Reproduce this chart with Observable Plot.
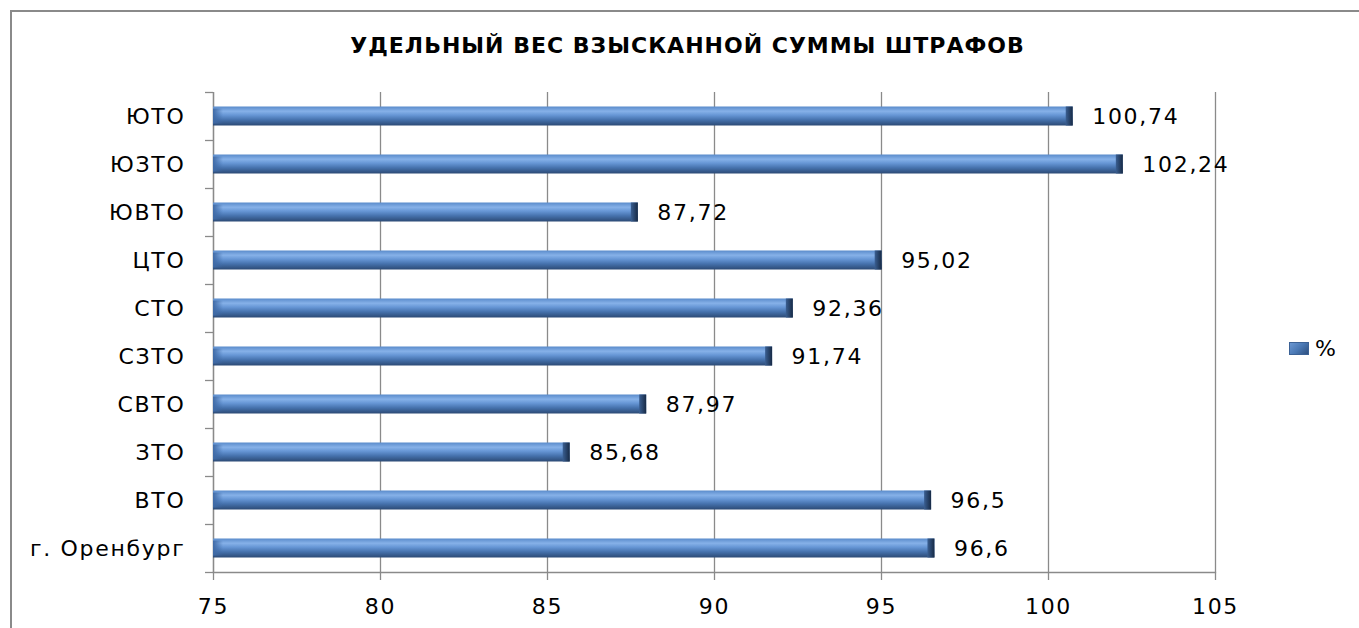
<!DOCTYPE html>
<html><head><meta charset="utf-8">
<script src="https://cdn.jsdelivr.net/npm/d3@7"></script>
<script src="https://cdn.jsdelivr.net/npm/@observablehq/plot@0.6"></script>
<style>
body{margin:0;background:#fff;}
#wrap{position:relative;width:1359px;height:628px;overflow:hidden;font-family:"DejaVu Sans",sans-serif;}
#frame{position:absolute;left:10px;top:10px;width:1400px;height:700px;border-left:2px solid #8a8a8a;border-top:2px solid #8a8a8a;}
#title{position:absolute;top:33px;left:0;width:1375px;text-align:center;font-weight:bold;font-size:22px;letter-spacing:1px;color:#000;}
#legend{position:absolute;left:1289px;top:336px;display:flex;align-items:center;font-size:22px;color:#000;}
#legend .sw{width:20px;height:13px;margin-right:6px;background:linear-gradient(135deg,#6f9bd6 0%,#4a78b4 50%,#2a4a78 100%);box-shadow:inset 0 0 0 1px #3c6296;}
#chart{position:absolute;left:0;top:0;}
#chart svg text{letter-spacing:1.7px;}
</style>
</head><body>
<div id="wrap">
  <div id="frame"></div>
  <div id="chart"></div>
  <div id="title">УДЕЛЬНЫЙ ВЕС ВЗЫСКАННОЙ СУММЫ ШТРАФОВ</div>
  <div id="legend"><div class="sw"></div><span>%</span></div>
</div>
<script>
const categories = ["ЮТО","ЮЗТО","ЮВТО","ЦТО","СТО","СЗТО","СВТО","ЗТО","ВТО","г. Оренбург"];
const values = [100.74,102.24,87.72,95.02,92.36,91.74,87.97,85.68,96.5,96.6];
const xDomain = [75,105];
const xTicks = [75,80,85,90,95,100,105];

const data = categories.map((name,i)=>({name, v: values[i]}));
const fmt = v => String(v).replace(".", ",");
const gray = "#8a8a8a";
const inset = 14.5;

const plot = Plot.plot({
  width: 1359, height: 628,
  marginLeft: 213, marginRight: 144, marginTop: 92, marginBottom: 56,
  style: {fontFamily: '"DejaVu Sans", sans-serif', background: "transparent", color: "#000"},
  x: {domain: xDomain, ticks: xTicks},
  y: {domain: categories, paddingInner: 0, paddingOuter: 0},
  marks: [
    Plot.gridX(xTicks, {stroke: gray, strokeOpacity: 1, strokeWidth: 1.3}),
    Plot.frame({anchor: "bottom", stroke: gray, strokeWidth: 1.3}),
    Plot.ruleX([xDomain[0]], {stroke: gray, strokeWidth: 1.3}),
    Plot.axisX({ticks: xTicks, tickSize: 8, tickPadding: 18, fontSize: 22, stroke: gray, strokeWidth: 1.3, fill: "#000", label: null}),
    Plot.axisY({tickSize: 0, tickPadding: 28, fontSize: 22, fill: "#000", label: null}),
    Plot.axisY({ticks: categories, tickSize: 8, tickFormat: () => "", dy: -24, stroke: gray, strokeWidth: 1.3, label: null}),
    Plot.axisY({ticks: [categories[categories.length-1]], tickSize: 8, tickFormat: () => "", dy: 24, stroke: gray, strokeWidth: 1.3, label: null}),
    Plot.barX(data, {y: "name", x1: () => xDomain[0], x2: "v", fill: "url(#barGrad)", insetTop: inset, insetBottom: inset}),
    Plot.barX(data, {y: "name", x1: () => xDomain[0], x2: () => xDomain[0], insetRight: -10, fill: "url(#leftGrad)", insetTop: inset+2, insetBottom: inset+2}),
    Plot.barX(data, {y: "name", x1: "v", x2: "v", insetLeft: -7, fill: "url(#capGrad)", insetTop: inset, insetBottom: inset}),
    Plot.text(data, {y: "name", x: "v", text: d => fmt(d.v), dx: 19, textAnchor: "start", fontSize: 22, fill: "#000"})
  ]
});

d3.select(plot).insert("defs", ":first-child").html(`
  <linearGradient id="barGrad" x1="0" y1="0" x2="0" y2="1">
    <stop offset="0" stop-color="#5a8bcb"/>
    <stop offset="0.25" stop-color="#86b1e8"/>
    <stop offset="0.45" stop-color="#6797d6"/>
    <stop offset="0.7" stop-color="#4672ad"/>
    <stop offset="1" stop-color="#2c4a75"/>
  </linearGradient>
  <linearGradient id="leftGrad" x1="0" y1="0" x2="1" y2="0">
    <stop offset="0" stop-color="#3f6aa6"/>
    <stop offset="1" stop-color="#3f6aa6" stop-opacity="0"/>
  </linearGradient>
  <linearGradient id="capGrad" x1="0" y1="0" x2="1" y2="0">
    <stop offset="0" stop-color="#3a5f92"/>
    <stop offset="1" stop-color="#172a45"/>
  </linearGradient>
`);
document.getElementById("chart").appendChild(plot);
</script>
</body></html>
